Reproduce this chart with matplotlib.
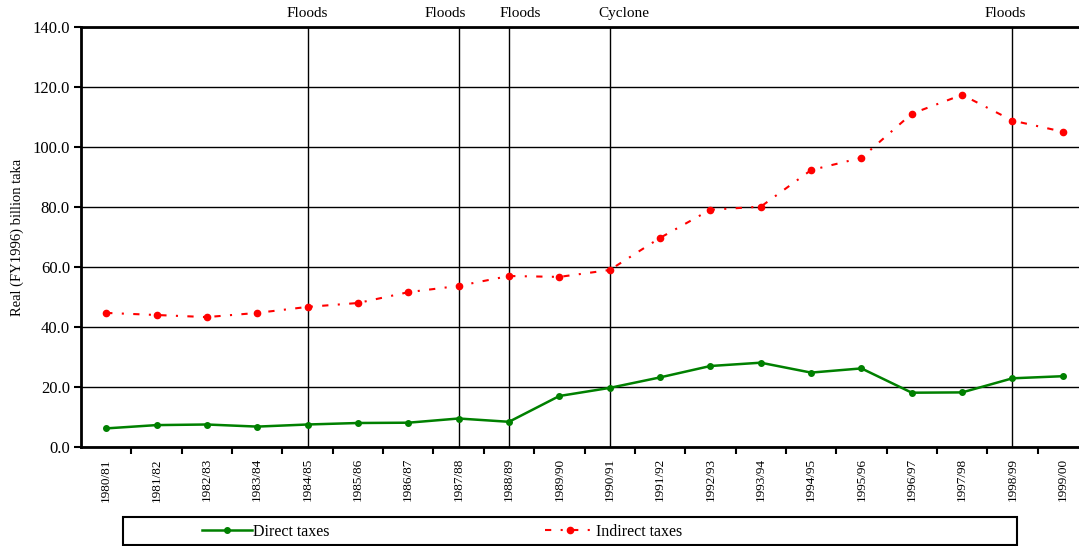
import numpy as np
import matplotlib
matplotlib.use("Agg")
import matplotlib.pyplot as plt
from matplotlib.patches import Rectangle

plt.rcParams['font.family'] = ['Liberation Serif', 'DejaVu Serif']

# fiscal years
years = ['1980/81', '1981/82', '1982/83', '1983/84', '1984/85', '1985/86', '1986/87',
         '1987/88', '1988/89', '1989/90', '1990/91', '1991/92', '1992/93', '1993/94',
         '1994/95', '1995/96', '1996/97', '1997/98', '1998/99', '1999/00']

# real (FY1996) billion taka
direct = [6.2, 7.3, 7.5, 6.8, 7.5, 8.0, 8.1, 9.5, 8.4, 17.0, 19.7, 23.2, 27.0,
          28.1, 24.8, 26.2, 18.1, 18.2, 22.9, 23.6]
indirect = [44.7, 44.0, 43.3, 44.7, 46.7, 48.0, 51.6, 53.7, 57.0, 56.7, 59.0, 69.7,
            79.1, 80.1, 92.3, 96.4, 111.1, 117.4, 108.8, 105.1]

# disasters marked with vertical lines
event_years = ['1984/85', '1987/88', '1988/89', '1990/91', '1998/99']
event_names = ['Floods', 'Floods', 'Floods', 'Cyclone', 'Floods']
label_shift = [0.0, -0.26, 0.22, 0.28, -0.14]  # label offsets, category units

yticks = [0, 20, 40, 60, 80, 100, 120, 140]

fig = plt.figure(figsize=(10.79, 5.46), dpi=100)
ax = fig.add_axes([81 / 1079, 99 / 546, 1007 / 1079, 420 / 546])

x = np.arange(len(years))
ax.plot(x, direct, color='#008000', lw=1.8, marker='o', ms=4, label='Direct taxes', zorder=4)
ax.plot(x, indirect, color='#ff0000', lw=1.5, ls=(0, (3, 4.5, 1, 4.5)), marker='o', ms=4.5,
        label='Indirect taxes', zorder=4)

for yr, name, dx in zip(event_years, event_names, label_shift):
    xi = years.index(yr)
    ax.axvline(xi, color='black', lw=1, zorder=2)
    ax.text(xi + dx, 1.031, name, transform=ax.get_xaxis_transform(), ha='center',
            va='center', fontsize=11)

ax.set_xlim(-0.5, len(years) - 0.5)
ax.set_ylim(0, 140)
ax.set_yticks(yticks)
ax.set_yticklabels(['%.1f' % v for v in yticks], fontsize=12)
ax.yaxis.grid(True, color='black', lw=1)
ax.set_axisbelow(True)

# boundary ticks, labels at category centres
ax.set_xticks(np.arange(0.5, len(years) - 0.5, 1))
ax.set_xticklabels([])
ax.set_xticks(x, minor=True)
ax.set_xticklabels(years, minor=True, rotation=90, fontsize=9.5)
ax.tick_params(axis='x', which='major', length=5, width=1.5, direction='out')
ax.tick_params(axis='x', which='minor', length=0, pad=8)
ax.tick_params(axis='y', length=5, width=1.5, direction='out', pad=3)

for s in ['left', 'bottom', 'top']:
    ax.spines[s].set_linewidth(2)
ax.spines['right'].set_visible(False)

ax.set_ylabel('Real (FY1996) billion taka', fontsize=10.5, labelpad=6)

# legend box
fig.patches.append(Rectangle((123 / 1079, 1 / 546), 894 / 1079, 28 / 546,
                             transform=fig.transFigure, fill=False, ec='black', lw=1.5))
fig.legend(loc='center left', bbox_to_anchor=(202 / 1079, 14 / 546), ncol=2, frameon=False,
           fontsize=11.5, handlelength=3.1, handletextpad=0.1, columnspacing=13.5,
           borderpad=0, borderaxespad=0)

fig.savefig('out.png', dpi=100)
